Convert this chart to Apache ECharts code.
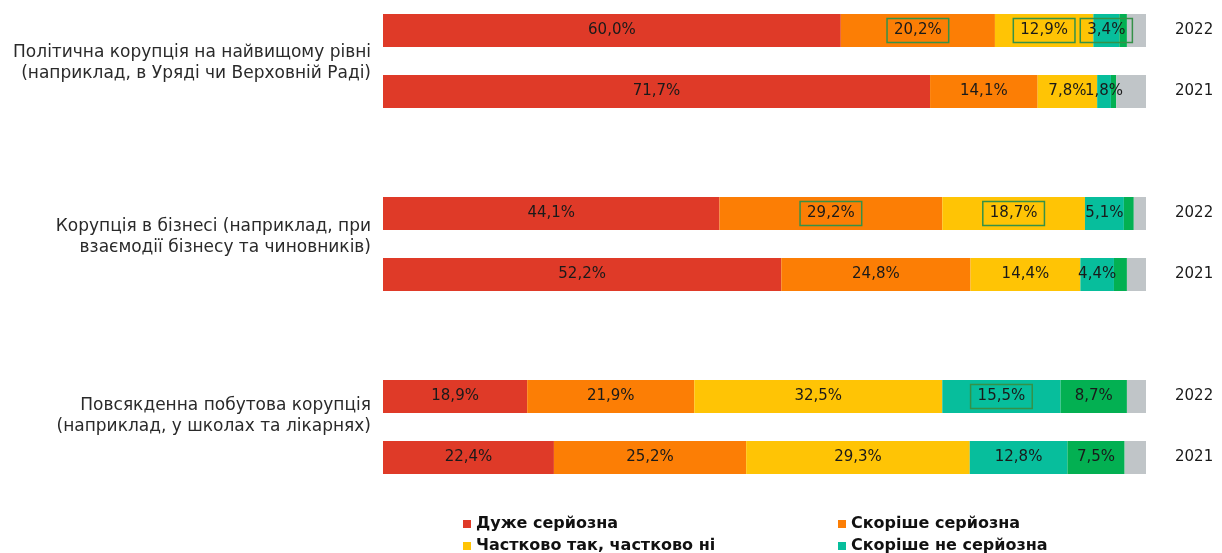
<!DOCTYPE html>
<html><head><meta charset="utf-8">
<script src="https://cdn.jsdelivr.net/npm/echarts@6/dist/echarts.min.js"></script>
<style>html,body{margin:0;padding:0;background:#fff}#c{width:1222px;height:553px}</style>
</head><body><div id="c"></div>
<script>
const groups = [
  'Політична корупція на найвищому рівні\n(наприклад, в Уряді чи Верховній Раді)',
  'Корупція в бізнесі (наприклад, при\nвзаємодії бізнесу та чиновників)',
  'Повсякденна побутова корупція\n(наприклад, у школах та лікарнях)'
];
const years = ['2022', '2021'];
const seriesNames = ['Дуже серйозна', 'Скоріше серйозна', 'Частково так, частково ні', 'Скоріше не серйозна', 'Зовсім не серйозна', 'Важко відповісти'];
// row order: політична 2022, 2021; бізнес 2022, 2021; побутова 2022, 2021
const verySerious   = [60.0, 71.7, 44.1, 52.2, 18.9, 22.4];
const ratherSerious = [20.2, 14.1, 29.2, 24.8, 21.9, 25.2];
const partly        = [12.9, 7.8, 18.7, 14.4, 32.5, 29.3];
const ratherNot     = [3.4, 1.8, 5.1, 4.4, 15.5, 12.8];
const notAtAll      = [1.0, 0.7, 1.3, 1.7, 8.7, 7.5];
const hardToSay     = [2.5, 3.9, 1.6, 2.5, 2.5, 2.8];
// labels marked as significant change: [seriesIndex, rowIndex]
const boxed = [[1, 0], [2, 0], [3, 0], [1, 2], [2, 2], [3, 4]];

const colors = ['#DF3A28', '#FC7E05', '#FFC405', '#07BE9C', '#03B052', '#C0C5C8'];
const allValues = [verySerious, ratherSerious, partly, ratherNot, notAtAll, hardToSay];

// categories with gap rows between groups
const cats = [];
const rowToCat = [];
groups.forEach((g, gi) => {
  years.forEach((y, yi) => { rowToCat.push(cats.length); cats.push(gi + '|' + y); });
  if (gi < groups.length - 1) cats.push('gap' + gi);
});

const fmt = v => v.toFixed(1).replace('.', ',') + '%';

const series = allValues.map((vals, si) => {
  const data = cats.map(() => '-');
  vals.forEach((v, ri) => {
    const isBoxed = boxed.some(b => b[0] === si && b[1] === ri);
    const showLabel = si < 4 || (si === 4 && v >= 5);
    const item = { value: v, label: { show: showLabel } };
    if (isBoxed) {
      item.label.borderColor = '#359148';
      item.label.borderWidth = 1.5;
      item.label.padding = [5, 7, 4, 7];
    }
    data[rowToCat[ri]] = item;
  });
  return {
    name: seriesNames[si], type: 'bar', stack: 'all', data,
    barWidth: 33,
    itemStyle: { color: colors[si] },
    label: {
      position: 'inside', color: '#1a1a1a', fontFamily: 'DejaVu Sans', fontSize: 15,
      formatter: p => fmt(p.value)
    },
    emphasis: { disabled: true }
  };
});

const legendText = { fontFamily: 'DejaVu Sans', fontWeight: 'bold', fontSize: 16, color: '#111' };
const chart = echarts.init(document.getElementById('c'), null, { renderer: 'canvas' });
const groupY = [63, 237, 416];
chart.setOption({
  animation: false,
  grid: { left: 383, right: 76, top: 0, height: 488 },
  xAxis: { type: 'value', min: 0, max: 100, show: false },
  yAxis: {
    type: 'category', data: cats, inverse: true, position: 'right',
    axisLine: { show: false }, axisTick: { show: false }, splitLine: { show: false },
    axisLabel: {
      margin: 29, color: '#1a1a1a', fontFamily: 'DejaVu Sans', fontSize: 15,
      formatter: v => v.startsWith('gap') ? '' : v.split('|')[1]
    }
  },
  legend: [
    { data: [seriesNames[0], seriesNames[2]], orient: 'vertical', left: 458, top: 511, height: 80, itemGap: 6,
      icon: 'rect', itemWidth: 8, itemHeight: 8, textStyle: legendText },
    { data: [seriesNames[1], seriesNames[3]], orient: 'vertical', left: 833, top: 511, height: 80, itemGap: 6,
      icon: 'rect', itemWidth: 8, itemHeight: 8, textStyle: legendText }
  ],
  graphic: groups.map((g, i) => ({
    type: 'text', x: 371, y: groupY[i],
    style: { text: g, align: 'right', verticalAlign: 'middle', font: '17px "DejaVu Sans"', lineHeight: 21, fill: '#2a2a2a' }
  })),
  series
});
</script></body></html>
